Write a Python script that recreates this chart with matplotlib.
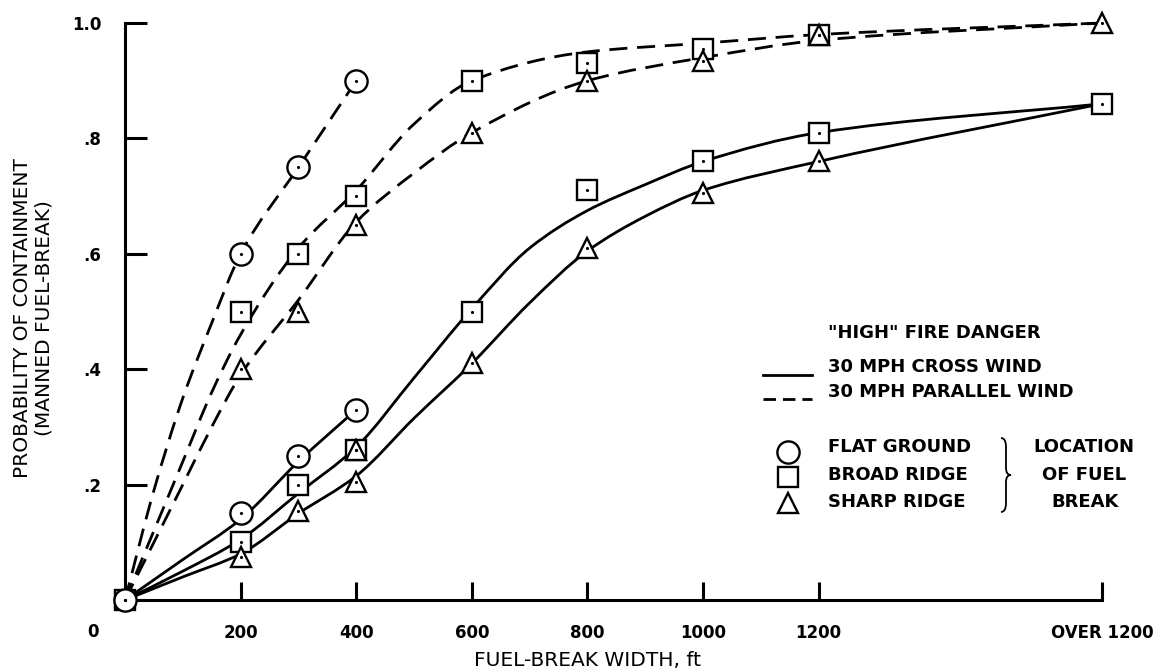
import matplotlib
matplotlib.use("Agg")
import matplotlib.pyplot as plt
from matplotlib.path import Path
from matplotlib.patches import PathPatch

plt.rcParams['font.family'] = ['DejaVu Sans']
plt.rcParams['lines.scale_dashes'] = False

# x position used for the "OVER 1200" column
over_x = 1690

# --- marker data ---
flat_par_x = [200, 300, 400]
flat_par_y = [0.60, 0.75, 0.90]
flat_cross_x = [0, 200, 300, 400]
flat_cross_y = [0.0, 0.15, 0.25, 0.33]

broad_par_x = [200, 300, 400, 600, 800, 1000, 1200]
broad_par_y = [0.50, 0.60, 0.70, 0.90, 0.93, 0.955, 0.98]
broad_cross_x = [0, 200, 300, 400, 600, 800, 1000, 1200, over_x]
broad_cross_y = [0.0, 0.10, 0.20, 0.26, 0.50, 0.71, 0.76, 0.81, 0.86]

sharp_par_x = [200, 300, 400, 600, 800, 1000, 1200, over_x]
sharp_par_y = [0.40, 0.50, 0.65, 0.81, 0.90, 0.935, 0.98, 1.0]
sharp_cross_x = [200, 300, 400, 400, 600, 800, 1000, 1200]
sharp_cross_y = [0.075, 0.155, 0.205, 0.26, 0.41, 0.61, 0.705, 0.76]

# --- faired curves ---
flat_par_cx = [0, 50, 100, 150, 200, 300, 400]
flat_par_cy = [0, 0.19, 0.35, 0.48, 0.60, 0.75, 0.90]

broad_par_cx = [0, 50, 100, 150, 200, 300, 400, 500, 600, 800, 1000, 1200, over_x]
broad_par_cy = [0, 0.12, 0.24, 0.36, 0.46, 0.61, 0.71, 0.825, 0.90, 0.95, 0.965, 0.98, 1.0]

sharp_par_cx = [0, 50, 100, 150, 200, 300, 400, 500, 600, 800, 1000, 1200, over_x]
sharp_par_cy = [0, 0.10, 0.20, 0.30, 0.39, 0.52, 0.655, 0.74, 0.81, 0.90, 0.94, 0.97, 1.0]

flat_cross_cx = [0, 100, 200, 300, 400]
flat_cross_cy = [0, 0.07, 0.14, 0.24, 0.33]

broad_cross_cx = [0, 100, 200, 300, 400, 500, 600, 700, 800, 900, 1000, 1200, over_x]
broad_cross_cy = [0, 0.05, 0.105, 0.185, 0.265, 0.385, 0.505, 0.61, 0.675, 0.72, 0.76, 0.81, 0.86]

sharp_cross_cx = [0, 100, 200, 300, 400, 500, 600, 700, 800, 900, 1000, 1200, over_x]
sharp_cross_cy = [0, 0.04, 0.08, 0.15, 0.215, 0.315, 0.41, 0.515, 0.605, 0.665, 0.71, 0.76, 0.86]

x_ticks = [200, 400, 600, 800, 1000, 1200, over_x]
x_ticklabels = ['200', '400', '600', '800', '1000', '1200', 'OVER 1200']
y_ticks = [0.2, 0.4, 0.6, 0.8, 1.0]
y_ticklabels = ['.2', '.4', '.6', '.8', '1.0']


def faired(xs, ys):
    # smooth bezier path through the read points (monotone cubic tangents)
    n = len(xs)
    h = [xs[i + 1] - xs[i] for i in range(n - 1)]
    d = [(ys[i + 1] - ys[i]) / h[i] for i in range(n - 1)]
    m = [d[0]] + [0.0] * (n - 2) + [d[-1]]
    for k in range(1, n - 1):
        if d[k - 1] * d[k] <= 0:
            m[k] = 0.0
        else:
            w1 = 2 * h[k] + h[k - 1]
            w2 = h[k] + 2 * h[k - 1]
            m[k] = (w1 + w2) / (w1 / d[k - 1] + w2 / d[k])
    verts = [(xs[0], ys[0])]
    codes = [Path.MOVETO]
    for i in range(n - 1):
        verts += [(xs[i] + h[i] / 3, ys[i] + m[i] * h[i] / 3),
                  (xs[i + 1] - h[i] / 3, ys[i + 1] - m[i + 1] * h[i] / 3),
                  (xs[i + 1], ys[i + 1])]
        codes += [Path.CURVE4] * 3
    return Path(verts, codes)


W, H = 1155, 669
fig = plt.figure(figsize=(W / 100, H / 100), dpi=100)
ax = fig.add_axes([125 / W, 69 / H, 977 / W, 577 / H])

lw = 2.0
dash = (0, (13, 7))
curves = [
    (flat_par_cx, flat_par_cy, dash), (broad_par_cx, broad_par_cy, dash),
    (sharp_par_cx, sharp_par_cy, dash), (flat_cross_cx, flat_cross_cy, '-'),
    (broad_cross_cx, broad_cross_cy, '-'), (sharp_cross_cx, sharp_cross_cy, '-'),
]
for cx, cy, ls in curves:
    ax.add_patch(PathPatch(faired(cx, cy), fc='none', ec='k', lw=lw, linestyle=ls,
                           clip_on=False, zorder=2, capstyle='butt'))

mk = dict(color='k', mfc='white', mew=1.7, linestyle='none', zorder=3)
ax.plot(broad_cross_x, broad_cross_y, marker='s', ms=14, clip_on=False, **mk)
ax.plot(broad_par_x, broad_par_y, marker='s', ms=14, clip_on=False, **mk)
ax.plot(flat_cross_x, flat_cross_y, marker='o', ms=16, clip_on=False, **mk)
ax.plot(flat_par_x, flat_par_y, marker='o', ms=16, clip_on=False, **mk)
ax.plot(sharp_cross_x, sharp_cross_y, marker='^', ms=15, clip_on=False, **mk)
ax.plot(sharp_par_x, sharp_par_y, marker='^', ms=15, clip_on=False, **mk)

# center dots
for xs, ys in [(flat_par_x, flat_par_y), (flat_cross_x, flat_cross_y),
               (broad_par_x, broad_par_y), (broad_cross_x, broad_cross_y),
               (sharp_par_x, sharp_par_y), (sharp_cross_x, sharp_cross_y)]:
    ax.plot(xs, ys, 'k.', ms=2.5, clip_on=False, zorder=4)

ax.set_xlim(0, over_x)
ax.set_ylim(0, 1.0)
for s in ['top', 'right']:
    ax.spines[s].set_visible(False)
for s in ['left', 'bottom']:
    ax.spines[s].set_linewidth(2.2)

ax.set_xticks(x_ticks)
ax.set_xticklabels(x_ticklabels, fontsize=12, fontweight='bold')
ax.set_yticks(y_ticks)
ax.set_yticklabels(y_ticklabels, fontsize=12, fontweight='bold')
ax.tick_params(axis='x', direction='in', length=13, width=2.2, pad=17)
ax.tick_params(axis='y', direction='in', length=16, width=2.2, pad=17)
ax.get_xticklabels()[-1].set_x(over_x - 15)

fig.text(93 / W, 1 - 632 / H, '0', ha='center', va='center', fontsize=12, fontweight='bold')
fig.text(588 / W, 1 - 660 / H, 'FUEL-BREAK WIDTH, ft', ha='center', va='center', fontsize=14.5)
fig.text(33 / W, 1 - 318 / H, 'PROBABILITY OF CONTAINMENT\n(MANNED FUEL-BREAK)',
         rotation=90, ha='center', va='center', multialignment='center',
         fontsize=14.5, linespacing=1.15)

# key, drawn in pixel coordinates on an overlay
key = fig.add_axes([0, 0, 1, 1], zorder=5)
key.set_xlim(0, W)
key.set_ylim(H, 0)
key.axis('off')
key.patch.set_alpha(0)

tkw = dict(fontsize=13, fontweight='bold', va='center')
key.text(828, 333, '"HIGH" FIRE DANGER', ha='left', **tkw)
key.text(828, 367, '30 MPH CROSS WIND', ha='left', **tkw)
key.text(828, 392, '30 MPH PARALLEL WIND', ha='left', **tkw)
key.plot([763, 812], [375, 375], color='k', lw=lw)
key.plot([763, 812], [399, 399], color='k', lw=lw, linestyle=(0, (9, 5)))

key.plot([788], [452], marker='o', ms=16, **mk)
key.plot([788], [477], marker='s', ms=14, **mk)
key.plot([788], [503], marker='^', ms=15, **mk)
key.text(828, 447, 'FLAT GROUND', ha='left', **tkw)
key.text(828, 475, 'BROAD RIDGE', ha='left', **tkw)
key.text(828, 502, 'SHARP RIDGE', ha='left', **tkw)
key.text(1084, 447, 'LOCATION', ha='center', **tkw)
key.text(1084, 475, 'OF FUEL', ha='center', **tkw)
key.text(1085, 502, 'BREAK', ha='center', **tkw)

brace = Path([(1001, 438), (1006, 438), (1006, 447), (1006, 468), (1006, 475), (1011, 475),
              (1006, 475), (1006, 482), (1006, 503), (1006, 512), (1001, 512)],
             [Path.MOVETO, Path.CURVE3, Path.CURVE3, Path.LINETO, Path.CURVE3, Path.CURVE3,
              Path.CURVE3, Path.CURVE3, Path.LINETO, Path.CURVE3, Path.CURVE3])
key.add_patch(PathPatch(brace, fc='none', ec='k', lw=1.3))

fig.savefig('out.png', dpi=100)
